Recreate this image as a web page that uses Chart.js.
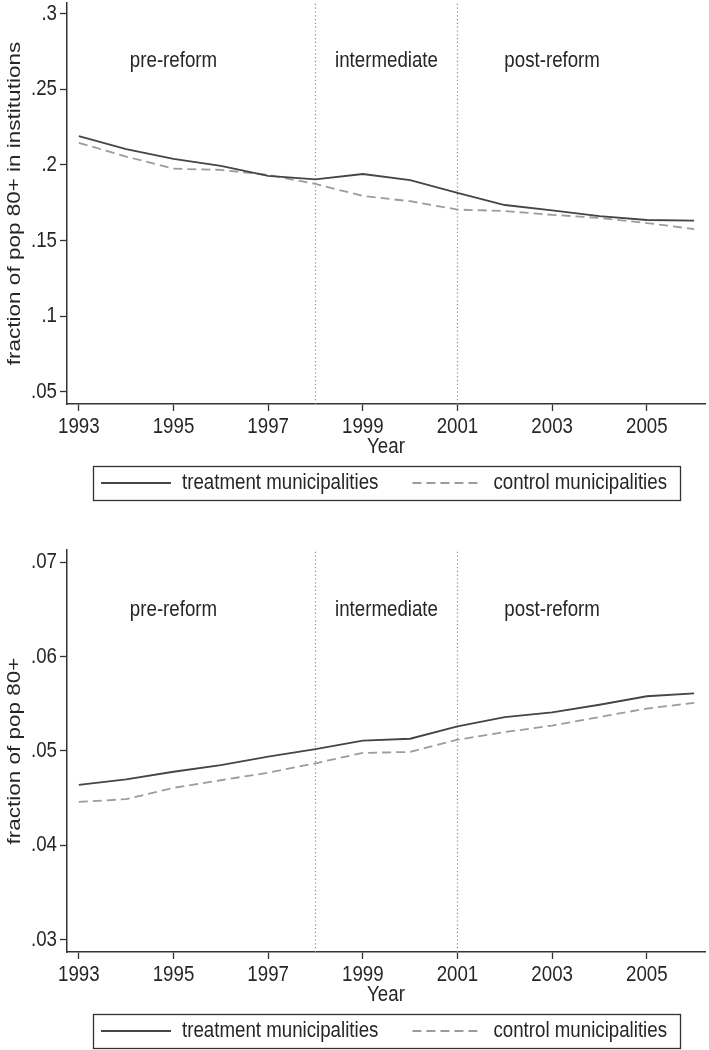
<!DOCTYPE html>
<html><head><meta charset="utf-8">
<script src="https://cdn.jsdelivr.net/npm/chart.js@4"></script>
<style>
html,body{margin:0;padding:0;background:#fff;overflow:hidden;}
#w1{position:absolute;left:0;top:0;width:709px;height:510px;}
#w2{position:absolute;left:0;top:505px;width:709px;height:550px;}
</style></head><body>
<div id="w1"><canvas id="c1"></canvas></div>
<div id="w2"><canvas id="c2"></canvas></div>
<script>
const years = [1993,1994,1995,1996,1997,1998,1999,2000,2001,2002,2003,2004,2005,2006];
const instTreatment = [0.219,0.2105,0.204,0.1993,0.1927,0.1904,0.194,0.1900,0.1815,0.1735,0.1700,0.1662,0.1636,0.1632];
const instControl   = [0.2146,0.2055,0.1975,0.1967,0.1934,0.1874,0.1795,0.1760,0.1705,0.1695,0.1670,0.1650,0.1616,0.1576];
const popTreatment  = [0.0464,0.0470,0.0478,0.0485,0.0494,0.0502,0.0511,0.0513,0.0526,0.0536,0.0541,0.0549,0.0558,0.0561];
const popControl    = [0.0446,0.0449,0.0461,0.0469,0.0477,0.0487,0.0498,0.0499,0.0512,0.0520,0.0527,0.0536,0.0545,0.0551];
const xTickValues = [1993,1995,1997,1999,2001,2003,2005];
const instTickValues = [0.05,0.1,0.15,0.2,0.25,0.3];
const instTickLabels = ['.05','.1','.15','.2','.25','.3'];
const popTickValues = [0.03,0.04,0.05,0.06,0.07];
const popTickLabels = ['.03','.04','.05','.06','.07'];
const reformYears = [1998, 2001];
const periodLabels = ['pre-reform','intermediate','post-reform'];
const periodX = [1995, 1999.5, 2003];
const seriesNames = ['treatment municipalities','control municipalities'];
const xLabel = 'Year';
const instTitle = 'fraction of pop 80+ in institutions';
const popTitle = 'fraction of pop 80+';

// The reference text is horizontally condensed; emulate it by scaling glyphs.
const SX = 0.85;
(function () {
  const P = CanvasRenderingContext2D.prototype;
  const oFill = P.fillText, oMeasure = P.measureText;
  P.fillText = function (t, x, y, mw) {
    const m = this.getTransform();
    const rotated = Math.abs(m.b) > 1e-6 || Math.abs(m.c) > 1e-6;
    this.save();
    this.translate(x, y);
    if (rotated) this.scale(1, SX); else this.scale(SX, 1);
    if (mw === undefined) oFill.call(this, t, 0, 0);
    else oFill.call(this, t, 0, 0, rotated ? mw : mw / SX);
    this.restore();
  };
  P.measureText = function (t) {
    const r = oMeasure.call(this, t);
    return {
      width: r.width * SX,
      actualBoundingBoxAscent: r.actualBoundingBoxAscent,
      actualBoundingBoxDescent: r.actualBoundingBoxDescent,
      actualBoundingBoxLeft: r.actualBoundingBoxLeft * SX,
      actualBoundingBoxRight: r.actualBoundingBoxRight * SX,
      fontBoundingBoxAscent: r.fontBoundingBoxAscent,
      fontBoundingBoxDescent: r.fontBoundingBoxDescent
    };
  };
})();

const FONT = "'Liberation Sans', Arial, sans-serif";
const TXT = '#262626';
const AX = '#333';

const periodPlugin = {
  id: 'periods',
  afterDatasetsDraw(chart, args, opts) {
    const ctx = chart.ctx, xs = chart.scales.x, ys = chart.scales.y;
    ctx.save();
    ctx.font = '22px ' + FONT;
    ctx.fillStyle = TXT;
    ctx.textAlign = 'center';
    ctx.textBaseline = 'middle';
    periodLabels.forEach((t, i) => {
      ctx.fillText(t, xs.getPixelForValue(periodX[i]), ys.getPixelForValue(opts.labelY));
    });
    ctx.restore();
  }
};
const legendBoxPlugin = {
  id: 'legendBox',
  afterDraw(chart) {
    const hb = chart.legend && chart.legend.legendHitBoxes;
    if (!hb || !hb.length) return;
    const ctx = chart.ctx;
    const cy = hb[0].top + hb[0].height / 2;
    const left = hb[0].left - 8;
    const last = hb[hb.length - 1];
    const right = last.left + last.width + 13;
    ctx.save();
    ctx.strokeStyle = AX;
    ctx.lineWidth = 1.3;
    ctx.strokeRect(Math.round(left) + 0.5, Math.round(cy - 17) + 0.5, Math.round(right - left), 34);
    ctx.restore();
  }
};

function makeChart(id, tre, con, yMin, yMax, tickVals, tickLabels, title, labelY, padTop, padBottom) {
  const datasets = [
    { label: seriesNames[0], data: years.map((y, i) => ({x: y, y: tre[i]})),
      borderColor: '#454545', borderWidth: 1.8, pointRadius: 0, fill: false, tension: 0 },
    { label: seriesNames[1], data: years.map((y, i) => ({x: y, y: con[i]})),
      borderColor: '#9c9c9c', borderWidth: 1.8, borderDash: [9, 5], pointRadius: 0, fill: false, tension: 0 }
  ];
  reformYears.forEach(r => datasets.push({
    label: 'ref' + r, data: [{x: r, y: yMin}, {x: r, y: yMax}],
    borderColor: '#8a8a8a', borderWidth: 1.2, borderDash: [1.2, 2.6], pointRadius: 0, fill: false
  }));
  return new Chart(document.getElementById(id), {
    type: 'line',
    data: { datasets },
    options: {
      responsive: true, maintainAspectRatio: false, animation: false,
      layout: { padding: { left: 0, right: 4, top: padTop, bottom: padBottom } },
      plugins: {
        tooltip: { enabled: false },
        periods: { labelY },
        legend: {
          display: true, position: 'bottom', fullSize: false, align: 'start',
          labels: {
            generateLabels: chart => Chart.defaults.plugins.legend.labels.generateLabels(chart)
              .filter(it => it.datasetIndex < 2)
              .map(it => {
                const ds = chart.data.datasets[it.datasetIndex];
                it.lineDash = ds.borderDash || [];
                it.strokeStyle = ds.borderColor;
                it.lineWidth = ds.borderWidth;
                return it;
              }),
            usePointStyle: true, pointStyle: 'line', pointStyleWidth: 70,
            font: { family: FONT, size: 22 }, color: TXT, padding: 34
          }
        }
      },
      scales: {
        x: {
          type: 'linear', min: 1992.75, max: 2006.23,
          afterBuildTicks: s => { s.ticks = xTickValues.map(v => ({value: v})); },
          afterFit: s => { s.height = 34; s.paddingLeft = 0; s.paddingRight = 0; },
          ticks: { callback: v => String(v), font: { family: FONT, size: 22, lineHeight: 1 }, color: TXT, padding: 5, maxRotation: 0, autoSkip: false },
          grid: { drawOnChartArea: false, drawTicks: true, tickLength: 7, color: AX, tickWidth: 1.3 },
          border: { display: true, color: AX, width: 1.5 },
          title: { display: true, text: xLabel, font: { family: FONT, size: 22, lineHeight: 1 }, color: TXT, padding: { top: 0, bottom: -20 } }
        },
        y: {
          type: 'linear', min: yMin, max: yMax,
          afterBuildTicks: s => { s.ticks = tickVals.map(v => ({value: v})); },
          afterFit: s => { s.width = 67; s.paddingTop = 0; s.paddingBottom = 0; },
          ticks: { callback: v => { const i = tickVals.findIndex(t => Math.abs(t - v) < 1e-9); return i >= 0 ? tickLabels[i] : ''; },
                   font: { family: FONT, size: 22, lineHeight: 1 }, color: TXT, padding: 3 },
          grid: { drawOnChartArea: false, drawTicks: true, tickLength: 7, color: AX, tickWidth: 1.3 },
          border: { display: true, color: AX, width: 1.5 },
          title: { display: true, text: title, font: { family: FONT, size: 22.5, lineHeight: 1.2 }, color: TXT, padding: { top: 1, bottom: 0 } }
        }
      }
    },
    plugins: [periodPlugin, legendBoxPlugin]
  });
}

makeChart('c1', instTreatment, instControl, 0.042, 0.307, instTickValues, instTickLabels, instTitle, 0.269, 3, 6);
makeChart('c2', popTreatment, popControl, 0.0287, 0.0713, popTickValues, popTickLabels, popTitle, 0.0649, 45, 3);
</script>
</body></html>
